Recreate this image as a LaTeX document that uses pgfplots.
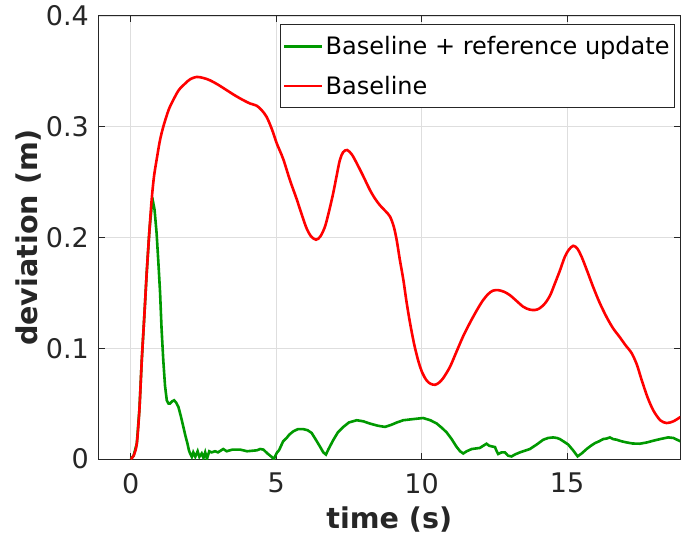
\documentclass[border=0pt]{standalone}
\usepackage{fontspec}
\setmainfont{DejaVu Sans}
\usepackage{pgfplots}
\pgfplotsset{compat=1.18}
\definecolor{axgray}{rgb}{0.15,0.15,0.15}
\definecolor{gridgray}{rgb}{0.87,0.87,0.87}
\definecolor{mgreen}{rgb}{0,0.6,0}
\begin{document}
\begin{tikzpicture}
\useasboundingbox (-98.5pt,-76pt) rectangle (591.5pt,459pt);
\begin{axis}[
  scale only axis, width=581.5pt, height=443pt,
  xmin=-1.107, xmax=18.88, ymin=0, ymax=0.4,
  xtick={0,5,10,15}, xticklabels={0,5,10,15},
  ytick={0,0.1,0.2,0.3,0.4}, yticklabels={0,0.1,0.2,0.3,0.4},
  tick align=inside, tick pos=both, major tick length=6pt,
  axis line style={axgray, line width=1pt},
  major tick style={axgray, line width=1pt},
  grid=major, major grid style={gridgray, line width=0.8pt},
  tick label style={font=\fontsize{27}{27}\selectfont, text=axgray},
  xticklabel style={anchor=north, inner sep=0pt, yshift=-14pt},
  yticklabel style={anchor=east, inner sep=0pt, xshift=-9.5pt},
  every axis x label/.style={at={(axis description cs:0.5,-0.1564)}, anchor=base, font=\fontsize{28.6}{30}\selectfont\bfseries, text=axgray},
  every axis y label/.style={at={(axis description cs:-0.1052,0.5)}, anchor=base, rotate=90, font=\fontsize{28.6}{30}\selectfont\bfseries, text=axgray},
  xlabel={time (s)}, ylabel={deviation (m)},
  legend style={at={(0.9914,0.9813)}, anchor=north east, draw=axgray, line width=0.8pt, fill=white,
    font=\fontsize{24}{24}\selectfont, text=black, inner xsep=3pt, inner ysep=9.5pt, row sep=15pt,
    nodes={inner xsep=2pt, text depth=0.236em}},
  legend cell align=left,
  legend image code/.code={\draw[#1] (0pt,0pt) -- (38pt,0pt);},
]
\addplot[mgreen, line width=2.6pt] coordinates {
(0,0) (0.1,0.003) (0.21,0.014) (0.3,0.045) (0.38,0.089) (0.47,0.13) (0.55,0.168) (0.64,0.205)
(0.72,0.228) (0.77,0.232) (0.82,0.225) (0.89,0.204) (0.95,0.178) (1.01,0.150) (1.06,0.118)
(1.12,0.089) (1.18,0.066) (1.24,0.053) (1.30,0.050) (1.35,0.050) (1.42,0.052) (1.49,0.053)
(1.56,0.051) (1.64,0.047) (1.72,0.039) (1.81,0.029) (1.88,0.021) (1.95,0.014) (2.0,0.008)
(2.04,0.005) (2.1,0.002) (2.15,0.006) (2.22,0.002) (2.3,0.007) (2.36,0.002) (2.44,0.005)
(2.5,0.001) (2.56,0.006) (2.62,0.0) (2.7,0.007) (2.78,0.006) (2.9,0.007) (3.0,0.006)
(3.18,0.009) (3.3,0.007) (3.5,0.0085) (3.76,0.0085) (4.0,0.007) (4.2,0.0075) (4.33,0.0078)
(4.45,0.009) (4.56,0.0085) (4.7,0.005) (4.84,0.002) (4.92,0.0) (5.02,0.0055) (5.1,0.008)
(5.24,0.016) (5.36,0.019) (5.45,0.022) (5.59,0.025) (5.75,0.027) (5.93,0.027) (6.08,0.026)
(6.22,0.0235) (6.35,0.018) (6.51,0.011) (6.62,0.006) (6.71,0.004) (6.8,0.009) (6.96,0.017)
(7.12,0.024) (7.31,0.029) (7.5,0.033) (7.77,0.035) (8.0,0.034) (8.22,0.032) (8.5,0.030)
(8.74,0.029) (8.97,0.031) (9.15,0.033) (9.37,0.035) (9.7,0.036) (10.05,0.037) (10.3,0.035)
(10.52,0.032) (10.7,0.028) (10.86,0.024) (11.03,0.018) (11.20,0.011) (11.32,0.007) (11.43,0.005)
(11.55,0.007) (11.72,0.009) (12.0,0.010) (12.12,0.012) (12.23,0.0138) (12.32,0.012) (12.41,0.0114)
(12.52,0.0108) (12.58,0.007) (12.63,0.0045) (12.75,0.006) (12.86,0.006) (12.97,0.003) (13.09,0.0023)
(13.2,0.004) (13.38,0.006) (13.55,0.0075) (13.72,0.009) (13.95,0.013) (14.18,0.0174) (14.35,0.019)
(14.52,0.0195) (14.65,0.019) (14.75,0.018) (14.9,0.0155) (15.04,0.013) (15.2,0.008) (15.36,0.0024)
(15.5,0.005) (15.67,0.009) (15.82,0.012) (15.96,0.0144) (16.1,0.016) (16.24,0.018) (16.36,0.0185)
(16.47,0.0195) (16.58,0.018) (16.70,0.0174) (16.87,0.016) (17.04,0.015) (17.25,0.014) (17.50,0.0138)
(17.75,0.015) (17.96,0.0165) (18.2,0.018) (18.47,0.0195) (18.65,0.019) (18.9,0.0159)
};
\addlegendentry{Baseline + reference update}
\addplot[red, line width=2.6pt, smooth] coordinates {
(0,0) (0.1,0.003) (0.21,0.014) (0.3,0.045) (0.38,0.089) (0.47,0.13) (0.55,0.168) (0.64,0.205)
(0.72,0.234) (0.8,0.255) (0.89,0.27) (1.0,0.287) (1.12,0.30) (1.3,0.315) (1.46,0.324)
(1.65,0.333) (1.87,0.339) (2.05,0.343) (2.27,0.345) (2.5,0.344) (2.72,0.342) (3.0,0.338)
(3.30,0.333) (3.6,0.328) (3.87,0.324) (4.1,0.321) (4.33,0.319) (4.5,0.315) (4.67,0.309)
(4.85,0.298) (5.02,0.285) (5.24,0.271) (5.47,0.252) (5.70,0.235) (5.9,0.219) (6.05,0.208)
(6.2,0.201) (6.37,0.198) (6.52,0.201) (6.68,0.210) (6.82,0.224) (6.96,0.240) (7.08,0.256)
(7.19,0.270) (7.3,0.277) (7.44,0.279) (7.6,0.275) (7.77,0.267) (8.0,0.255) (8.22,0.243)
(8.4,0.235) (8.57,0.229) (8.75,0.224) (8.91,0.219) (9.04,0.210) (9.14,0.198) (9.25,0.180)
(9.37,0.162) (9.48,0.142) (9.60,0.123) (9.74,0.104) (9.88,0.089) (10.02,0.078) (10.17,0.071)
(10.3,0.068) (10.46,0.067) (10.6,0.069) (10.74,0.073) (10.97,0.083) (11.20,0.097) (11.43,0.111)
(11.66,0.123) (11.89,0.134) (12.1,0.143) (12.29,0.149) (12.45,0.152) (12.63,0.1525) (12.83,0.151)
(13.03,0.148) (13.25,0.143) (13.49,0.1375) (13.7,0.135) (13.89,0.1345) (14.05,0.136) (14.24,0.1405)
(14.42,0.148) (14.58,0.1585) (14.75,0.170) (14.92,0.1825) (15.06,0.189) (15.21,0.1925) (15.35,0.190)
(15.50,0.1825) (15.70,0.169) (15.90,0.155) (16.12,0.141) (16.36,0.128) (16.58,0.118) (16.81,0.110)
(17.0,0.103) (17.22,0.0955) (17.4,0.085) (17.56,0.0715) (17.76,0.056) (17.96,0.044) (18.2,0.035)
(18.42,0.0325) (18.65,0.034) (18.9,0.038)
};
\addlegendentry{Baseline}
\end{axis}
\end{tikzpicture}
\end{document}
